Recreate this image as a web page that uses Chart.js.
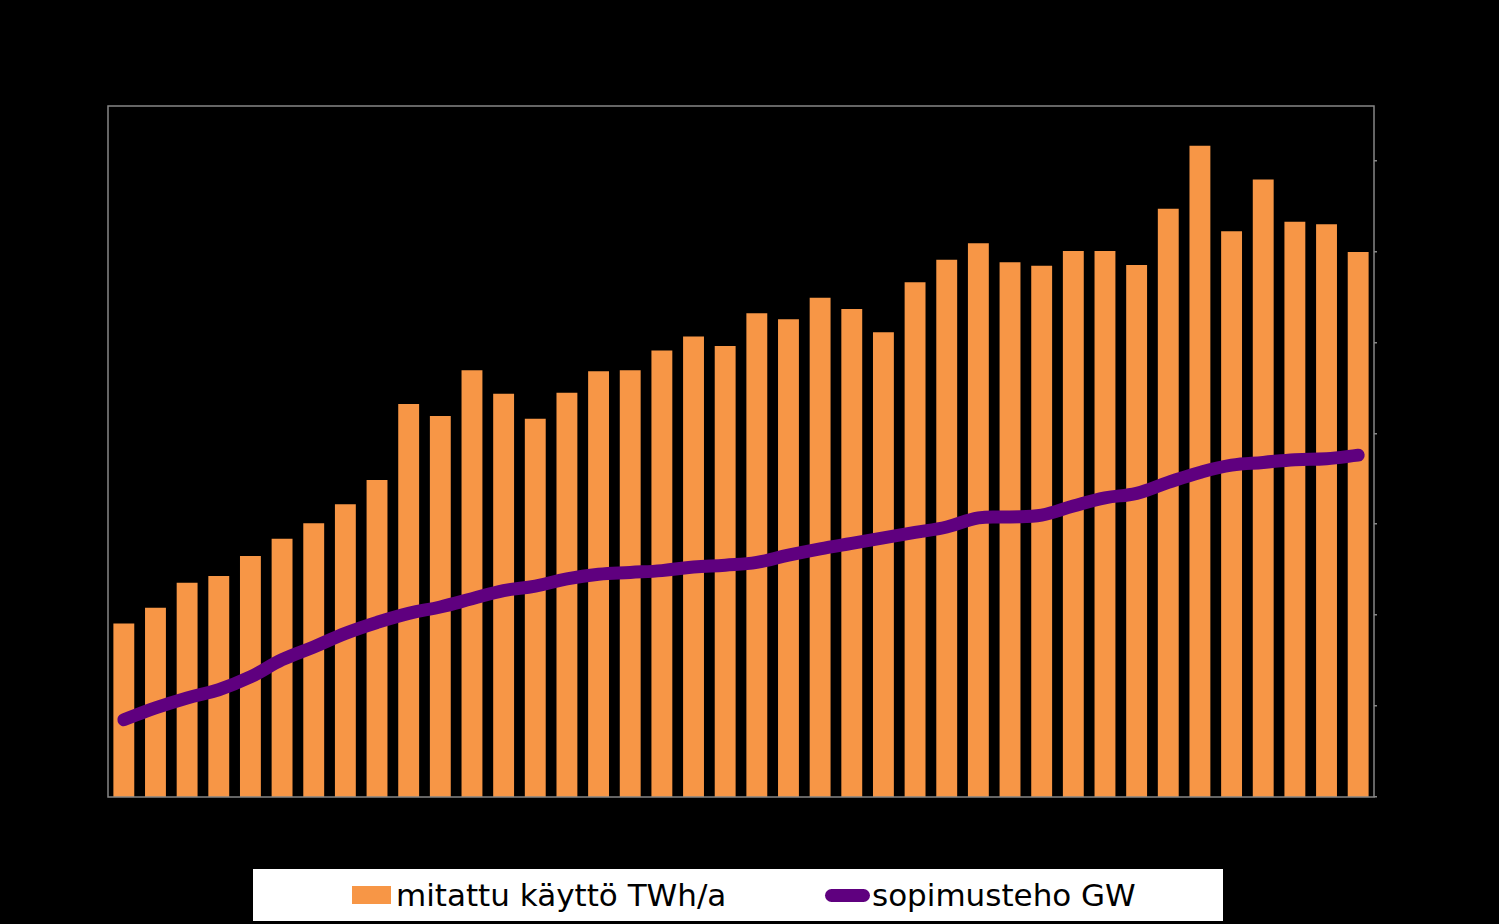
<!DOCTYPE html>
<html>
<head>
<meta charset="utf-8">
<script src="https://cdn.jsdelivr.net/npm/chart.js@4/dist/chart.umd.min.js"></script>
<style>
    body { margin: 0; background: #000; }
    #wrap { position: relative; width: 1499px; height: 924px; }
    #legend {
        position: absolute; left: 253px; top: 869px; width: 970px; height: 52px;
        background: #fff; font-family: "DejaVu Sans", Verdana, sans-serif; font-size: 31px; color: #000;
    }
    #legend .item { position: absolute; top: 0; height: 52px; display: flex; align-items: center; white-space: nowrap; }
    #legend .swatch { display: inline-block; margin-right: 5px; }
</style>
</head>
<body>
<div id="wrap">
    <canvas id="mainChart" width="1499" height="924"></canvas>
    <div id="legend"></div>
</div>
<script>
const years = [];
for (let y = 1971; y <= 2010; y++) years.push(String(y));

// mitattu käyttö TWh/a
const usageTWh = [20.1, 21.9, 24.8, 25.6, 27.9, 29.9, 31.7, 33.9, 36.7, 45.5,
                  44.1, 49.4, 46.7, 43.8, 46.8, 49.3, 49.4, 51.7, 53.3, 52.2,
                  56.0, 55.3, 57.8, 56.5, 53.8, 59.6, 62.2, 64.1, 61.9, 61.5,
                  63.2, 63.2, 61.6, 68.1, 75.4, 65.5, 71.5, 66.6, 66.3, 63.1];

// sopimusteho GW
const contractGW = [0.85, 0.98, 1.09, 1.18, 1.32, 1.51, 1.65, 1.80, 1.92, 2.02,
                    2.09, 2.18, 2.27, 2.32, 2.40, 2.45, 2.47, 2.49, 2.53, 2.55,
                    2.58, 2.66, 2.73, 2.79, 2.85, 2.91, 2.97, 3.07, 3.08, 3.10,
                    3.20, 3.29, 3.34, 3.46, 3.57, 3.65, 3.68, 3.71, 3.72, 3.76];

const usageMax = 80;
const powerMax = 7.6;
const powerTicks = [0, 1, 2, 3, 4, 5, 6, 7];

const frameBorder = {
    id: 'frameBorder',
    afterDraw: function(chart) {
        const a = chart.chartArea;
        const ctx = chart.ctx;
        ctx.save();
        ctx.strokeStyle = '#868686';
        ctx.lineWidth = 1.5;
        ctx.strokeRect(a.left, a.top, a.right - a.left, a.bottom - a.top);
        ctx.restore();
    }
};

const htmlLegend = {
    id: 'htmlLegend',
    afterUpdate: function(chart) {
        const box = document.getElementById('legend');
        box.innerHTML = '';
        const spots = [99, 572];
        chart.data.datasets.forEach((ds, i) => {
            const item = document.createElement('div');
            item.className = 'item';
            item.style.left = spots[i] + 'px';
            const sw = document.createElement('span');
            sw.className = 'swatch';
            if (ds.type === 'line') {
                sw.style.width = '45px';
                sw.style.height = '13px';
                sw.style.borderRadius = '7px';
                sw.style.marginRight = '2px';
            } else {
                sw.style.width = '39px';
                sw.style.height = '18px';
            }
            sw.style.background = ds.type === 'line' ? ds.borderColor : ds.backgroundColor;
            const txt = document.createElement('span');
            txt.textContent = ds.label;
            item.appendChild(sw);
            item.appendChild(txt);
            box.appendChild(item);
        });
    }
};

const ctx = document.getElementById('mainChart').getContext('2d');
window.mainChart = new Chart(ctx, {
    data: {
        labels: years,
        datasets: [{
            type: 'bar',
            label: 'mitattu käyttö TWh/a',
            data: usageTWh,
            backgroundColor: '#F79646',
            categoryPercentage: 1,
            barPercentage: 0.66,
            yAxisID: 'y',
            order: 1
        }, {
            type: 'line',
            label: 'sopimusteho GW',
            data: contractGW,
            borderColor: '#5F007F',
            borderWidth: 13,
            borderCapStyle: 'round',
            borderJoinStyle: 'round',
            pointRadius: 0,
            tension: 0.4,
            fill: false,
            yAxisID: 'y1',
            order: 0
        }]
    },
    options: {
        responsive: false,
        animation: false,
        layout: { padding: { left: 108, top: 106, right: 125, bottom: 127 } },
        plugins: {
            legend: { display: false },
            tooltip: { enabled: false }
        },
        scales: {
            x: { display: false },
            y: { display: false, min: 0, max: usageMax },
            y1: {
                position: 'right',
                min: 0,
                max: powerMax,
                afterBuildTicks: function(scale) {
                    scale.ticks = powerTicks.map(v => ({ value: v }));
                },
                afterFit: function(scale) { scale.width = 0; },
                border: { display: false },
                grid: { drawOnChartArea: false, drawTicks: true, tickLength: 3, color: '#868686', lineWidth: 1.5 },
                ticks: { display: false }
            }
        }
    },
    plugins: [frameBorder, htmlLegend]
});
</script>
</body>
</html>
